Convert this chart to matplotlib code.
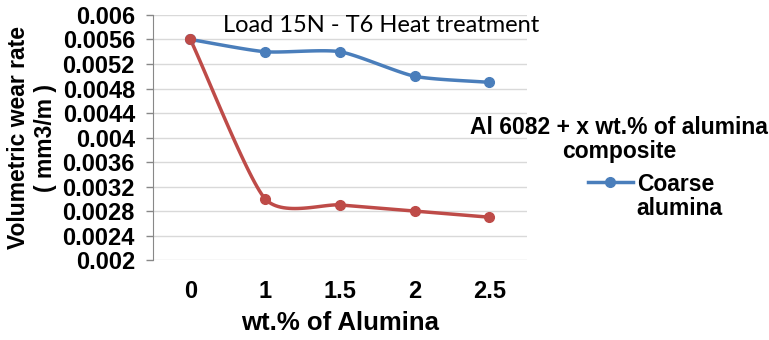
import numpy as np
import matplotlib
matplotlib.use('Agg')
import matplotlib.pyplot as plt

# wear rate data (mm3/m) vs alumina content
categories = ['0', '1', '1.5', '2', '2.5']
coarse = [0.0056, 0.0054, 0.0054, 0.0050, 0.0049]
fine = [0.0056, 0.0030, 0.0029, 0.0028, 0.0027]
yticks = [0.002, 0.0024, 0.0028, 0.0032, 0.0036, 0.004, 0.0044, 0.0048, 0.0052, 0.0056, 0.006]
ytick_labels = ['0.002', '0.0024', '0.0028', '0.0032', '0.0036', '0.004',
                '0.0044', '0.0048', '0.0052', '0.0056', '0.006']

BLUE = '#4a7ebb'
RED = '#be4b48'


def smooth(x, y, n=30):
    # Catmull-Rom curve through the points, like a spreadsheet "smoothed line"
    x = np.asarray(x, float)
    y = np.asarray(y, float)
    px = np.concatenate([[2 * x[0] - x[1]], x, [2 * x[-1] - x[-2]]])
    py = np.concatenate([[2 * y[0] - y[1]], y, [2 * y[-1] - y[-2]]])
    xs, ys = [], []
    t = np.linspace(0, 1, n)
    for i in range(1, len(px) - 2):
        for p, out in ((px, xs), (py, ys)):
            p0, p1, p2, p3 = p[i - 1], p[i], p[i + 1], p[i + 2]
            m1 = (p2 - p0) / 2 / 1.5
            m2 = (p3 - p1) / 2 / 1.5
            h00 = 2 * t**3 - 3 * t**2 + 1
            h10 = t**3 - 2 * t**2 + t
            h01 = -2 * t**3 + 3 * t**2
            h11 = t**3 - t**2
            out.extend(h00 * p1 + h10 * m1 + h01 * p2 + h11 * m2)
    return np.array(xs), np.array(ys)


plt.rcParams['font.family'] = ['Liberation Sans', 'DejaVu Sans']
plt.rcParams['font.weight'] = 'bold'

fig = plt.figure(figsize=(7.69, 3.40), dpi=100)
ax = fig.add_axes([0.199, 0.235, 0.486, 0.721])

x = np.arange(len(categories))
sx, sy = smooth(x, coarse)
ax.plot(sx, sy, color=BLUE, lw=2.5, zorder=3)
ax.plot(x, coarse, 'o', color=BLUE, ms=7, zorder=4)
sx, sy = smooth(x, fine)
ax.plot(sx, sy, color=RED, lw=2.5, zorder=3)
ax.plot(x, fine, 'o', color=RED, ms=7, zorder=5)

ax.set_xlim(-0.5, len(categories) - 0.5)
ax.set_ylim(0.002, 0.006)
ax.set_yticks(yticks)
ax.set_yticklabels(ytick_labels, fontsize=17, fontweight='bold')
ax.set_xticks(x)
ax.set_xticklabels(categories, fontsize=17, fontweight='bold')
ax.tick_params(axis='x', length=0, pad=14)
ax.tick_params(axis='y', length=5, color='#888888', width=1, pad=8)
ax.grid(axis='y', color='#d9d9d9', lw=1)
ax.set_axisbelow(True)
for s in ['top', 'right', 'bottom']:
    ax.spines[s].set_visible(False)
ax.spines['left'].set_color('#888888')

ax.set_xlabel('wt.% of Alumina', fontsize=18.5, fontweight='bold', labelpad=6)
ax.set_ylabel('Volumetric wear rate\n( mm3/m )', fontsize=16.5, fontweight='bold',
              labelpad=4, linespacing=1.2)

fig.text(0.495, 0.925, 'Load 15N - T6 Heat treatment', family=['Lato', 'DejaVu Sans'],
         fontsize=17, fontweight='normal', ha='center', va='center')

# series legend on the right
fig.text(0.805, 0.591, 'Al 6082 + x wt.% of alumina\ncomposite', fontsize=16.5,
         fontweight='bold', ha='center', va='center', linespacing=1.05)
fig.add_artist(plt.Line2D([0.765, 0.823], [0.465, 0.465], color=BLUE, lw=2.5))
fig.add_artist(plt.Line2D([0.7935], [0.465], marker='o', color=BLUE, ms=7))
fig.text(0.828, 0.422, 'Coarse\nalumina', fontsize=16.5, fontweight='bold',
         ha='left', va='center', linespacing=1.05)

fig.savefig('out.png', dpi=100)
